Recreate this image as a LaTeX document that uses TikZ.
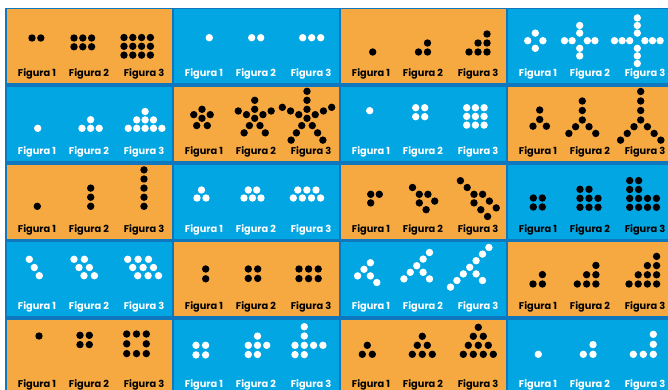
\documentclass[tikz,border=0pt]{standalone}
\usepackage{fontspec}
\setmainfont{Poppins}
\definecolor{orng}{HTML}{F6A941}
\definecolor{cyanb}{HTML}{02A6E3}
\definecolor{edgeb}{HTML}{0F77BD}
\newcommand\dotr{3.7pt}
\newcommand\Grid[5]{\foreach \gi/\gj in {#5}{\fill[#1] ({#2+(\gi)*#4},{#3+(\gj)*#4}) circle[radius=\dotr];}}
\newcommand\Off[4]{\foreach \pa/\pb in {#4}{\fill[#1] ({#2+(\pa)},{#3+(\pb)}) circle[radius=\dotr];}}
\newcommand\Arms[6]{\begin{scope}[shift={(#2,#3)}]\foreach \aa in {#6}{\foreach \kk in {1,...,#4}{\fill[#1] (\aa:{\kk*#5}) circle[radius=\dotr];}}\end{scope}}
\begin{document}
\begin{tikzpicture}[x=1pt,y=-1pt,
  cell/.style={inner sep=0pt, outer sep=0pt, minimum width=164.5pt, minimum height=74pt, anchor=north west},
  lab/.style={anchor=base, inner sep=0pt, font=\bfseries\fontsize{9.8}{11}\selectfont},
  dk/.style={fill=black}, dw/.style={fill=white}]
\useasboundingbox (0,0) rectangle (668,390);
\fill[white] (0,0) rectangle (668,390);
\fill[edgeb] (5,8) rectangle (668,390);
\foreach \r/\yt in {0/9.5,1/87,2/164.5,3/242,4/319.5}{
  \foreach \c/\xl in {0/7,1/174,2/341,3/508}{
    \pgfmathtruncatemacro\cpar{mod(\r+\c,2)}
    \ifnum\cpar=0 \def\cfill{orng}\def\tcol{black}\else\def\cfill{cyanb}\def\tcol{white}\fi
    \ifnum\r=2 \ifnum\c=3 \def\tcol{black}\fi\fi
    \node[cell, fill=\cfill] (cell\r\c) at (\xl,\yt) {};
    \foreach \k/\dx in {1/30,2/82,3/137}{
      \node[lab, text=\tcol] (lab\r\c\k) at (\xl+\dx,\yt+67.5) {Figura \k};
    }
  }
}
% ---- row 1
\Grid{dk}{32}{38}{8.8}{0/0,1/0}
\Grid{dk}{74}{38}{8.8}{0/0,1/0,2/0,0/1,1/1,2/1}
\Grid{dk}{124}{37.5}{8.8}{0/0,1/0,2/0,3/0,0/1,1/1,2/1,3/1,0/2,1/2,2/2,3/2}
\Grid{dw}{209.3}{37.7}{9}{0/0}
\Grid{dw}{251.7}{37.7}{9}{0/0,1/0}
\Grid{dw}{302.7}{37.7}{9}{0/0,1/0,2/0}
\Grid{dk}{372.7}{52}{9}{0/0}
\Grid{dk}{418.5}{52}{9}{0/0,1/0,1/-1}
\Grid{dk}{469}{52}{9}{0/0,1/0,2/0,1/-1,2/-1,2/-2}
\Arms{dw}{535.3}{40.7}{1}{7.6}{0,90,180,270}
\Arms{dw}{579.7}{40.7}{2}{7.6}{0,90,180,270}
\Arms{dw}{637.3}{40.7}{3}{7.6}{0,90,180,270}
% ---- row 2
\Grid{dw}{37.7}{128.3}{8.6}{0/0}
\Grid{dw}{82}{128.3}{8.6}{0/0,1/0,2/0,1/-1}
\Grid{dw}{128.3}{128.3}{8.4}{0/0,1/0,2/0,3/0,4/0,1/-1,2/-1,3/-1,2/-2}
\Grid{dk}{202}{118.3}{1}{0/0}
\Arms{dk}{202}{118.3}{1}{9}{-90,-24,54,126,204}
\Grid{dk}{254.7}{118.3}{1}{0/0}
\Arms{dk}{254.7}{118.3}{2}{9}{-90,-24,54,126,204}
\Grid{dk}{307}{118.3}{1}{0/0}
\Arms{dk}{307}{118.3}{3}{9}{-90,-24,54,126,204}
\Grid{dw}{369.7}{110.7}{1}{0/0}
\Grid{dw}{415.7}{107.7}{9}{0/0,1/0,0/1,1/1}
\Grid{dw}{466.7}{107.7}{8.7}{0/0,1/0,2/0,0/1,1/1,2/1,0/2,1/2,2/2}
\Grid{dk}{539.7}{119.5}{1}{0/0}
\Arms{dk}{539.7}{119.5}{1}{9.5}{-90,45,135}
\Grid{dk}{582.3}{120}{1}{0/0}
\Arms{dk}{582.3}{120}{2}{9.5}{-90,45,135}
\Grid{dk}{640.7}{120}{1}{0/0}
\Arms{dk}{640.7}{120}{3}{9.5}{-90,45,135}
% ---- row 3
\Grid{dk}{37.3}{206.3}{1}{0/0}
\Grid{dk}{90.7}{206.3}{9.1}{0/0,0/-1,0/-2}
\Grid{dk}{144}{206.3}{9.1}{0/0,0/-1,0/-2,0/-3,0/-4}
\Off{dw}{0}{0}{197/198,206/198,201.5/190}
\Off{dw}{0}{0}{244/198,252.5/198,261/198,248.3/190,256.7/190}
\Off{dw}{0}{0}{293.3/198,302.4/198,311.5/198,320.6/198,297.8/190,306.9/190,316/190}
\Off{dk}{370.7}{194.3}{0/0,8.6/0,0/8.6}
\Off{dk}{419.3}{194.3}{0/0,-6.8/-6.8,8.6/0,15.4/6.8,0/8.6,6.8/15.4}
\Off{dk}{474}{194.3}{0/0,-6.8/-6.8,-13.6/-13.6,8.6/0,15.4/6.8,22.2/13.6,0/8.6,6.8/15.4,13.6/22.2}
\Grid{dk}{533.3}{198}{9}{0/0,1/0,0/1,1/1}
\Grid{dk}{580}{207.3}{9}{0/0,1/0,2/0,0/-1,1/-1,2/-1,0/-2,1/-2}
\Grid{dk}{629.7}{207.3}{8.9}{0/0,1/0,2/0,3/0,0/-1,1/-1,2/-1,3/-1,0/-2,1/-2,0/-3,1/-3}
% ---- row 4
\Off{dw}{29.3}{259.3}{0/0,5/8.2,10/16.4}
\Off{dw}{74}{259.3}{0/0,10.4/0,5/8.2,15.4/8.2,10/16.4,20.4/16.4}
\Off{dw}{127.7}{259.3}{0/0,10.4/0,20.8/0,5/8.2,15.4/8.2,25.8/8.2,10/16.4,20.4/16.4,30.8/16.4}
\Grid{dk}{205.7}{269}{9.8}{0/0,0/1}
\Grid{dk}{248.3}{269}{9.4}{0/0,1/0,0/1,1/1}
\Grid{dk}{299}{269}{9.6}{0/0,1/0,2/0,0/1,1/1,2/1}
\Off{dw}{364}{269.3}{0/0,6.4/-6.6,-6.4/6.6,6.4/6.6,12.8/13.2}
\Off{dw}{416.7}{265.7}{0/0,6.4/-6.6,12.8/-13.2,-6.4/6.6,-12.8/13.2,6.4/6.6,12.8/13.2}
\Off{dw}{469.7}{267.3}{0/0,6.4/-6.6,12.8/-13.2,19.2/-19.8,-6.4/6.6,-12.8/13.2,-19.2/19.8,6.4/6.6,12.8/13.2}
\Grid{dk}{533}{284}{9.4}{0/0,1/0,1/-1}
\Grid{dk}{577.3}{284}{9.3}{0/0,1/0,2/0,1/-1,2/-1,2/-2}
\Grid{dk}{629}{284}{9.2}{0/0,1/0,2/0,3/0,1/-1,2/-1,3/-1,2/-2,3/-2,3/-3}
% ---- row 5
\Grid{dk}{39}{336}{1}{0/0}
\Grid{dk}{80}{335.3}{9.3}{0/0,1/0,0/1,1/1}
\Grid{dk}{126.7}{334}{9.8}{0/0,1/0,2/0,0/1,2/1,0/2,1/2,2/2}
\Grid{dw}{196}{345.3}{9.6}{0/0,1/0,0/1,1/1}
\Grid{dw}{248.3}{345.3}{9.2}{0/0,1/0,2/0,0/1,1/1,1/-1}
\Grid{dw}{295}{345.3}{9.3}{0/0,1/0,2/0,3/0,0/1,1/1,1/-1,1/-2}
\Off{dk}{0}{0}{367.3/345.3,362.3/354.3,372.3/354.3}
\Off{dk}{0}{0}{422.3/336.3,417.3/345.3,427.3/345.3,412.3/354.3,422.3/354.3,432.3/354.3}
\Off{dk}{0}{0}{478.3/327.3,473.3/336.3,483.3/336.3,468.3/345.3,478.3/345.3,488.3/345.3,463.3/354.3,473.3/354.3,483.3/354.3,493.3/354.3}
\Grid{dw}{538.3}{354.3}{1}{0/0}
\Grid{dw}{583.3}{354.3}{9.7}{0/0,1/0,1/-1}
\Grid{dw}{633.3}{354.3}{10}{0/0,1/0,2/0,2/-1,2/-2}
\end{tikzpicture}
\end{document}
